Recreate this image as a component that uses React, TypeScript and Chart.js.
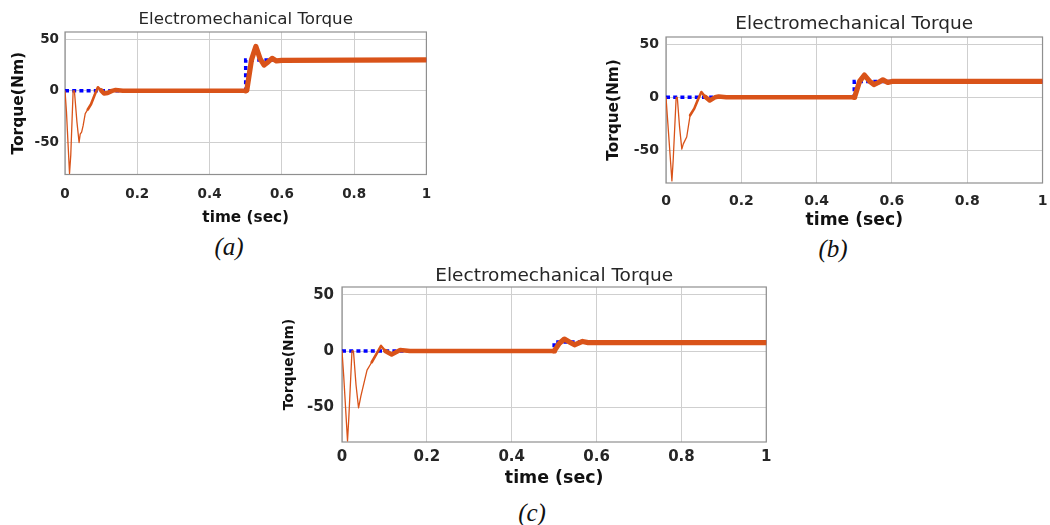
import React, { useEffect, useRef } from "react";
import { Chart, registerables } from "chart.js";

Chart.register(...registerables);

// ---------- shared text ----------
const TITLE = "Electromechanical Torque";
const X_LABEL = "time (sec)";
const Y_LABEL = "Torque(Nm)";
const X_TICKS = [0, 0.2, 0.4, 0.6, 0.8, 1];
const X_TICK_LABELS = ["0", "0.2", "0.4", "0.6", "0.8", "1"];
const Y_TICKS = [-50, 0, 50];
const Y_TICK_LABELS = ["-50", "0", "50"];
const Y_MIN = -81;
const Y_MAX = 57;
const MID_FROM = 0.06; // line begins to thicken
const BAND_FROM = 0.1; // full ripple band

// ---------- panel (a) ----------
const timeA = [0, 0.004, 0.0125, 0.016, 0.0225, 0.026, 0.033, 0.039, 0.042, 0.046, 0.05, 0.056, 0.063, 0.072, 0.082, 0.091, 0.1, 0.108, 0.118, 0.13, 0.14, 0.16, 0.5, 0.503, 0.516, 0.528, 0.54, 0.551, 0.562, 0.573, 0.585, 0.6, 1.0];
const torqueA = [0, -20, -80, -62, 0, 0, -30, -50, -42, -40, -34, -22, -18, -13, -4, 3.5, 0.5, -2.5, -2, 0, 0.8, 0, 0, 0.5, 30, 43, 31, 25, 28, 31.5, 29, 29.5, 30];
const refTimeA = [0, 0.5, 0.5, 1];
const refTorqueA = [0, 0, 30, 30];

// ---------- panel (b) ----------
const timeB = [0, 0.005, 0.0157, 0.019, 0.027, 0.03, 0.036, 0.042, 0.046, 0.055, 0.064, 0.075, 0.085, 0.094, 0.104, 0.116, 0.13, 0.14, 0.16, 0.5, 0.501, 0.514, 0.527, 0.54, 0.552, 0.564, 0.576, 0.589, 0.6, 1.0];
const torqueB = [0, -25, -79, -60, 0, 0, -28, -49, -44, -37.5, -17, -10.7, -2, 5, 0.5, -3, 0, 0.8, 0, 0, 0.3, 15, 21, 15.5, 12, 14, 16.5, 14, 15, 15];
const refTimeB = [0, 0.5, 0.5, 1];
const refTorqueB = [0, 0, 15, 15];

// ---------- panel (c) ----------
const timeC = [0, 0.004, 0.013, 0.016, 0.0235, 0.027, 0.033, 0.039, 0.0446, 0.059, 0.07, 0.082, 0.092, 0.102, 0.117, 0.137, 0.16, 0.5, 0.5008, 0.5125, 0.524, 0.536, 0.548, 0.567, 0.58, 1.0];
const torqueC = [0, -22, -80, -60, 0, 0, -30, -50.6, -40, -17, -10, -2, 4.5, 0, -3, 1, 0, 0, 0.3, 7, 10.6, 8, 5.5, 8.5, 7.5, 7.5];
const refTimeC = [0, 0.5, 0.5, 1];
const refTorqueC = [0, 0, 8, 8];

// ---------- styles ----------
const ORANGE = "#D95319";
const BLUE = "#0000FF";
const GRID = "#cfcfcf";
const FRAME = "#8f8f8f";
const TEXT = "#262626";
const FONT = "'DejaVu Sans', sans-serif";

type Panel = {
  time: number[];
  torque: number[];
  refTime: number[];
  refTorque: number[];
  caption: string;
  canvas: { left: number; top: number; width: number; height: number };
  plot: { left: number; top: number; bottom: number };
  titleCy: number;
  titleSize: number;
  tickSize: number;
  tickGap: number;
  xTickCy: number;
  xLabelSize: number;
  xLabelCy: number;
  yLabelSize: number;
  yLabelCx: number;
  captionX: number;
  captionY: number;
};

const PANELS: Panel[] = [
  {
    time: timeA, torque: torqueA, refTime: refTimeA, refTorque: refTorqueA, caption: "(a)",
    canvas: { left: 0, top: 0, width: 443, height: 230 },
    plot: { left: 65, top: 32, bottom: 174.5 },
    titleCy: 19.5, titleSize: 16.7, tickSize: 13.5, tickGap: 6, xTickCy: 194.5,
    xLabelSize: 15.3, xLabelCy: 218.5, yLabelSize: 15.5, yLabelCx: 19,
    captionX: 229, captionY: 246,
  },
  {
    time: timeB, torque: torqueB, refTime: refTimeB, refTorque: refTorqueB, caption: "(b)",
    canvas: { left: 600, top: 0, width: 457, height: 233 },
    plot: { left: 666, top: 37, bottom: 183 },
    titleCy: 24, titleSize: 18.5, tickSize: 14, tickGap: 7, xTickCy: 201,
    xLabelSize: 17.2, xLabelCy: 221, yLabelSize: 15.3, yLabelCx: 614.5,
    captionX: 833, captionY: 248,
  },
  {
    time: timeC, torque: torqueC, refTime: refTimeC, refTorque: refTorqueC, caption: "(c)",
    canvas: { left: 275, top: 250, width: 503, height: 241 },
    plot: { left: 342, top: 287, bottom: 442 },
    titleCy: 276, titleSize: 18.5, tickSize: 15, tickGap: 8, xTickCy: 457.5,
    xLabelSize: 17.4, xLabelCy: 478, yLabelSize: 13.8, yLabelCx: 289,
    captionX: 532, captionY: 512,
  },
];

const framePlugin = {
  id: "frame",
  beforeDatasetsDraw(chart: any) {
    const { ctx, chartArea } = chart;
    const { left, top, right, bottom } = chartArea;
    ctx.save();
    ctx.strokeStyle = FRAME;
    ctx.lineWidth = 1.2;
    ctx.strokeRect(left, top, right - left, bottom - top);
    ctx.restore();
  },
};

function TorqueChart({ p }: { p: Panel }) {
  const ref = useRef<HTMLCanvasElement | null>(null);

  useEffect(() => {
    if (!ref.current) return;
    const c = p.canvas;
    const TLH = 1.0;
    const LH = 1.2;
    const titlePadTop = p.titleCy - c.top - 0.5 * p.titleSize * TLH;
    const titlePadBottom = Math.max(0, p.plot.top - c.top - p.titleSize * TLH - titlePadTop);
    const yAxisWidth = p.plot.left - c.left;
    const yTitlePad = p.yLabelCx - c.left - 0.5 * p.yLabelSize * LH;
    const xAxisHeight = c.top + c.height - p.plot.bottom;
    const xTickPad = p.xTickCy - p.plot.bottom - 0.5 * p.tickSize * LH;
    const xTitlePadBottom = Math.max(0, c.top + c.height - p.xLabelCy - 0.5 * p.xLabelSize * LH);

    const torqueData = p.time.map((t, i) => ({ x: t, y: p.torque[i] }));
    const refData = p.refTime.map((t, i) => ({ x: t, y: p.refTorque[i] }));

    const widthFor = (t: number) => (t >= 0.5 ? 5.2 : t >= BAND_FROM ? 4.5 : t >= MID_FROM ? 2.6 : 1.3);

    const chart = new Chart(ref.current, {
      type: "line",
      data: {
        datasets: [
          {
            data: torqueData,
            borderColor: ORANGE,
            borderWidth: 4.5,
            pointRadius: 0,
            tension: 0,
            borderJoinStyle: "round",
            borderCapStyle: "round",
            segment: {
              borderWidth: (ctx: any) => widthFor(p.time[ctx.p0DataIndex]),
            },
          },
          {
            data: refData,
            borderColor: BLUE,
            borderWidth: 3.5,
            borderDash: [4, 3.2],
            pointRadius: 0,
            tension: 0,
          },
        ],
      },
      options: {
        responsive: false,
        animation: false,
        events: [],
        layout: { padding: { left: 0, top: 0, right: 10, bottom: 0 } },
        plugins: {
          legend: { display: false },
          tooltip: { enabled: false },
          title: {
            display: true,
            text: TITLE,
            fullSize: false,
            color: TEXT,
            font: { family: FONT, size: p.titleSize, weight: "normal", lineHeight: TLH },
            padding: { top: titlePadTop, bottom: titlePadBottom },
          },
        },
        scales: {
          x: {
            type: "linear",
            min: 0,
            max: 1,
            afterBuildTicks: (s: any) => {
              s.ticks = X_TICKS.map((v) => ({ value: v }));
            },
            afterFit: (s: any) => {
              s.height = xAxisHeight;
            },
            ticks: {
              autoSkip: false,
              maxRotation: 0,
              color: TEXT,
              padding: xTickPad,
              font: { family: FONT, size: p.tickSize, weight: "bold", lineHeight: LH },
              callback: (v: any) => {
                const i = X_TICKS.findIndex((t) => Math.abs(t - Number(v)) < 1e-9);
                return i >= 0 ? X_TICK_LABELS[i] : "";
              },
            },
            grid: { color: GRID, lineWidth: 1, drawTicks: false },
            border: { display: false },
            title: {
              display: true,
              text: X_LABEL,
              color: "#111",
              font: { family: FONT, size: p.xLabelSize, weight: "bold", lineHeight: LH },
              padding: { top: 0, bottom: xTitlePadBottom },
            },
          },
          y: {
            type: "linear",
            min: Y_MIN,
            max: Y_MAX,
            afterBuildTicks: (s: any) => {
              s.ticks = Y_TICKS.map((v) => ({ value: v }));
            },
            afterFit: (s: any) => {
              s.width = yAxisWidth;
            },
            ticks: {
              color: TEXT,
              padding: p.tickGap,
              font: { family: FONT, size: p.tickSize, weight: "bold", lineHeight: LH },
              callback: (v: any) => {
                const i = Y_TICKS.indexOf(Number(v));
                return i >= 0 ? Y_TICK_LABELS[i] : "";
              },
            },
            grid: { color: GRID, lineWidth: 1, drawTicks: false },
            border: { display: false },
            title: {
              display: true,
              text: Y_LABEL,
              color: "#111",
              font: { family: FONT, size: p.yLabelSize, weight: "bold", lineHeight: LH },
              padding: { top: yTitlePad, bottom: 0 },
            },
          },
        },
      },
      plugins: [framePlugin],
    } as any);

    return () => chart.destroy();
  }, [p]);

  return (
    <>
      <canvas
        ref={ref}
        width={p.canvas.width}
        height={p.canvas.height}
        style={{
          position: "absolute",
          left: p.canvas.left,
          top: p.canvas.top,
          width: p.canvas.width,
          height: p.canvas.height,
        }}
      />
      <div
        style={{
          position: "absolute",
          left: p.captionX,
          top: p.captionY,
          transform: "translate(-50%, -50%)",
          fontFamily: "'Liberation Serif', 'Times New Roman', serif",
          fontStyle: "italic",
          fontSize: 25,
          lineHeight: 1,
          color: "#111",
          whiteSpace: "nowrap",
        }}
      >
        {p.caption}
      </div>
    </>
  );
}

export default function App() {
  return (
    <div
      style={{
        position: "absolute",
        left: 0,
        top: 0,
        width: 1050,
        height: 525,
        overflow: "hidden",
        background: "#ffffff",
      }}
    >
      {PANELS.map((p, i) => (
        <TorqueChart key={i} p={p} />
      ))}
    </div>
  );
}
